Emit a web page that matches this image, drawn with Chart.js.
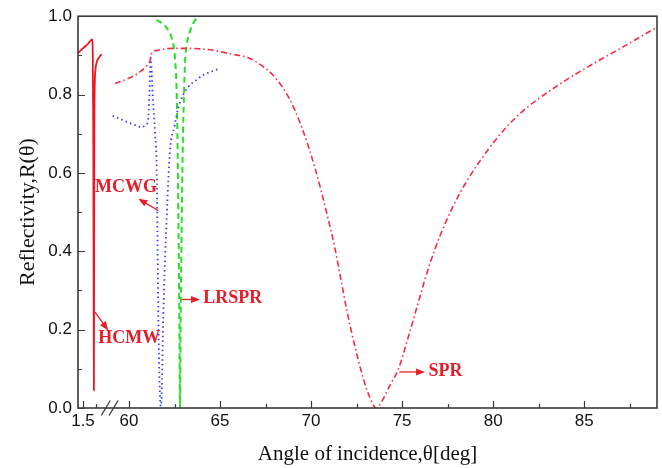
<!DOCTYPE html>
<html>
<head>
<meta charset="utf-8">
<script src="https://cdn.jsdelivr.net/npm/chart.js@4.4.1/dist/chart.umd.min.js"></script>
<style>
  html, body { margin: 0; padding: 0; background: #fff; }
  #wrap { width: 662px; height: 468px; }
</style>
</head>
<body>
<div id="wrap"><canvas id="chart" width="662" height="468"></canvas></div>
<script>
// values: angle of incidence (deg) and reflectivity
const hcmwTheta = [1.4615, 1.50, 1.54, 1.571, 1.575, 1.579, 1.582, 1.5835, 1.585, 1.587, 1.590, 1.595, 1.605, 1.62, 1.644];
const hcmwR     = [0.906, 0.918, 0.930, 0.941, 0.90, 0.70, 0.30, 0.045, 0.30, 0.70, 0.82, 0.86, 0.882, 0.893, 0.903];

const mcwgTheta = [59.10, 59.5, 60.0, 60.24, 60.5, 60.70, 60.9, 61.05, 61.12, 61.19, 61.3, 61.43, 61.52, 61.56, 61.61, 61.70, 61.745, 61.79, 61.88, 62.07, 62.25, 62.5, 62.71, 62.98, 63.26, 63.72, 64.08, 64.49, 64.91];
const mcwgR     = [0.746, 0.738, 0.728, 0.724, 0.719, 0.716, 0.722, 0.735, 0.80, 0.894, 0.80, 0.70, 0.61, 0.45, 0.232, 0.03, 0.005, 0.03, 0.232, 0.487, 0.656, 0.72, 0.767, 0.80, 0.82, 0.838, 0.85, 0.858, 0.865];

const lrsprTheta = [61.5, 61.79, 62.1, 62.3, 62.43, 62.53, 62.62, 62.67, 62.72, 62.76, 62.80, 62.84, 62.89, 62.95, 63.02, 63.08, 63.17, 63.35, 63.63, 63.85];
const lrsprR     = [0.99, 0.983, 0.968, 0.95, 0.93, 0.89, 0.80, 0.66, 0.45, 0.25, 0.0, 0.25, 0.45, 0.66, 0.80, 0.885, 0.928, 0.962, 0.99, 1.0];

const sprTheta = [59.23, 59.7, 60.24, 60.6, 60.97, 61.15, 61.25, 61.5, 61.79, 62.35, 63.08, 63.8, 64.63, 65.55, 66.55, 67.2, 68.0, 68.8, 69.5, 70.2, 70.9, 71.3, 71.59, 71.96, 72.42, 72.87, 73.2, 73.57, 73.9, 74.3, 74.8, 75.3, 75.8, 76.3, 76.8, 77.4, 78.1, 78.7, 79.3, 80.2, 81.1, 82.0, 83.0, 84.0, 85.0, 86.0, 87.0, 88.0, 89.0];
const sprR     = [0.828, 0.836, 0.847, 0.858, 0.873, 0.885, 0.907, 0.912, 0.915, 0.918, 0.918, 0.917, 0.913, 0.904, 0.894, 0.877, 0.845, 0.79, 0.715, 0.615, 0.49, 0.41, 0.34, 0.25, 0.155, 0.075, 0.03, 0.0, 0.018, 0.055, 0.10, 0.175, 0.255, 0.335, 0.405, 0.475, 0.542, 0.59, 0.632, 0.688, 0.735, 0.772, 0.806, 0.837, 0.865, 0.892, 0.918, 0.945, 0.972];

// axis ticks
const xTickTheta  = [1.5, 1.6, 60, 62.5, 65, 67.5, 70, 72.5, 75, 77.5, 80, 82.5, 85, 87.5];
const xTickLabels = ['1.5', '', '60', '', '65', '', '70', '', '75', '', '80', '', '85', ''];
const yMajorTicks = [0, 0.2, 0.4, 0.6, 0.8, 1.0];
const yMinorTicks = [0.1, 0.3, 0.5, 0.7, 0.9];

// annotations: label, text anchor, arrow from -> to (theta, R)
const noteLabels = ['MCWG', 'HCMW', 'LRSPR', 'SPR'];
const noteText   = [[1.592, 0.562], [1.618, 0.178], [64.08, 0.280], [76.45, 0.094]];
const noteFrom   = [[61.61, 0.504], [1.592, 0.245], [62.90, 0.277], [74.85, 0.092]];
const noteTo     = [[60.51, 0.534], [1.694, 0.198], [63.90, 0.277], [76.26, 0.092]];

// broken axis: the 1.5..1.6 segment is squeezed in left of 60
const LEFT_ORIGIN = 57.473, LEFT_STRETCH = 7.143;
const toAxis = t => t < 10 ? LEFT_ORIGIN + (t - 1.5) * LEFT_STRETCH : t;
const breakAt = [1.675, 1.735];

const pts = (xs, ys) => xs.map((t, i) => ({ x: toAxis(t), y: ys[i] }));

const frame = {
  id: 'frame',
  afterDatasetsDraw(chart) {
    const { ctx, chartArea: a, scales: { x, y } } = chart;
    ctx.save();
    ctx.strokeStyle = '#3a3a3a';
    ctx.lineWidth = 1.6;
    ctx.strokeRect(a.left, a.top, a.right - a.left, a.bottom - a.top);

    ctx.lineWidth = 1.2;
    ctx.beginPath();
    xTickTheta.forEach((t, i) => {
      const px = Math.round(x.getPixelForValue(toAxis(t))) + 0.5;
      ctx.moveTo(px, a.bottom);
      ctx.lineTo(px, a.bottom - (xTickLabels[i] ? 7 : 4));
    });
    yMajorTicks.forEach(v => {
      const py = Math.round(y.getPixelForValue(v)) + 0.5;
      ctx.moveTo(a.left, py);
      ctx.lineTo(a.left + 7, py);
    });
    yMinorTicks.forEach(v => {
      const py = Math.round(y.getPixelForValue(v)) + 0.5;
      ctx.moveTo(a.left, py);
      ctx.lineTo(a.left + 4, py);
    });
    ctx.stroke();

    // break marks
    ctx.lineWidth = 1.3;
    ctx.beginPath();
    breakAt.forEach(t => {
      const px = x.getPixelForValue(toAxis(t));
      ctx.moveTo(px - 4.5, a.bottom + 7.5);
      ctx.lineTo(px + 4.5, a.bottom - 7.5);
    });
    ctx.stroke();

    // annotations
    ctx.fillStyle = ctx.strokeStyle = 'rgb(232,28,40)';
    ctx.font = 'bold 18px "Liberation Serif"';
    ctx.textBaseline = 'middle';
    ctx.textAlign = 'left';
    noteLabels.forEach((lab, i) => {
      ctx.fillText(lab, x.getPixelForValue(toAxis(noteText[i][0])), y.getPixelForValue(noteText[i][1]));
      const x0 = x.getPixelForValue(toAxis(noteFrom[i][0])), y0 = y.getPixelForValue(noteFrom[i][1]);
      const x1 = x.getPixelForValue(toAxis(noteTo[i][0])), y1 = y.getPixelForValue(noteTo[i][1]);
      const ang = Math.atan2(y1 - y0, x1 - x0);
      ctx.lineWidth = 1.3;
      ctx.beginPath();
      ctx.moveTo(x0, y0);
      ctx.lineTo(x1 - 6 * Math.cos(ang), y1 - 6 * Math.sin(ang));
      ctx.stroke();
      ctx.beginPath();
      ctx.moveTo(x1, y1);
      ctx.lineTo(x1 - 9 * Math.cos(ang) + 3.5 * Math.sin(ang), y1 - 9 * Math.sin(ang) - 3.5 * Math.cos(ang));
      ctx.lineTo(x1 - 9 * Math.cos(ang) - 3.5 * Math.sin(ang), y1 - 9 * Math.sin(ang) + 3.5 * Math.cos(ang));
      ctx.closePath();
      ctx.fill();
    });
    ctx.restore();
  }
};

Chart.defaults.font.family = '"Liberation Sans", Arial, sans-serif';
Chart.defaults.color = '#111';

new Chart(document.getElementById('chart'), {
  type: 'line',
  data: {
    datasets: [
      { label: 'SPR', data: pts(sprTheta, sprR), borderColor: 'rgb(244,44,64)', borderWidth: 1.6, borderDash: [6, 3, 1.5, 3] },
      { label: 'MCWG', data: pts(mcwgTheta, mcwgR), borderColor: 'rgb(55,60,240)', borderWidth: 1.8, borderDash: [1.5, 3.2] },
      { label: 'LRSPR', data: pts(lrsprTheta, lrsprR), borderColor: 'rgb(40,220,40)', borderWidth: 2, borderDash: [6, 4] },
      { label: 'HCMW', data: pts(hcmwTheta, hcmwR), borderColor: 'rgb(240,20,30)', borderWidth: 1.8 }
    ]
  },
  options: {
    responsive: false,
    animation: false,
    devicePixelRatio: 1,
    layout: { padding: { top: 15, right: 5, left: 0, bottom: 0 } },
    elements: { point: { radius: 0 }, line: { cubicInterpolationMode: 'monotone', fill: false } },
    plugins: { legend: { display: false }, tooltip: { enabled: false } },
    scales: {
      x: {
        type: 'linear',
        min: toAxis(1.4615),
        max: 89,
        grid: { display: false, drawTicks: false },
        border: { display: false },
        afterBuildTicks: s => { s.ticks = xTickTheta.map(t => ({ value: toAxis(t) })); },
        afterFit: s => { s.height = 60; },
        ticks: {
          autoSkip: false, maxRotation: 0, padding: 3,
          font: { size: 17 },
          callback: (v, i) => xTickLabels[i]
        },
        title: {
          display: true, text: 'Angle of incidence,θ[deg]',
          font: { family: '"Liberation Serif", serif', size: 21 },
          padding: { top: 0, bottom: 1 }
        }
      },
      y: {
        min: 0, max: 1,
        grid: { display: false, drawTicks: false },
        border: { display: false },
        afterBuildTicks: s => { s.ticks = yMajorTicks.map(v => ({ value: v })); },
        afterFit: s => { s.width = 78; },
        ticks: { padding: 6, font: { size: 17 }, callback: v => v.toFixed(1) },
        title: {
          display: true, text: 'Reflectivity,R(θ)',
          font: { family: '"Liberation Serif", serif', size: 22 },
          padding: { top: 15, bottom: 0 }
        }
      }
    }
  },
  plugins: [frame]
});
</script>
</body>
</html>
